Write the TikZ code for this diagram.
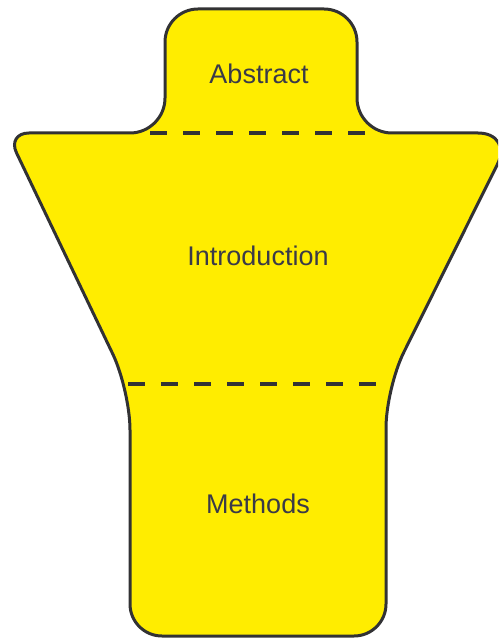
\documentclass[tikz,border=0pt]{standalone}
\usepackage{fontspec}
\setmainfont{Liberation Sans}
\usetikzlibrary{calc}
\definecolor{fillyellow}{RGB}{255,237,0}
\definecolor{edgegray}{RGB}{50,50,52}
\definecolor{labelgray}{RGB}{58,58,72}
\tikzset{
  outline/.style={draw=edgegray, line width=3pt, fill=fillyellow, line join=round},
  divider/.style={draw=edgegray, line width=3.5pt, dash pattern=on 17pt off 16pt},
  label/.style={text=labelgray, font=\fontsize{27}{32}\selectfont, inner sep=0pt},
  rc/.style n args={5}{insert path={-- ($(#2)!#4!(#1)$) .. controls ($(#2)!#5!(#1)$) and ($(#2)!#5!(#3)$) .. ($(#2)!#4!(#3)$)}}
}
\begin{document}
\begin{tikzpicture}[x=1pt,y=-1pt]
\useasboundingbox (0,0) rectangle (498,639);
\clip (0,0) rectangle (498,639);
\coordinate (M) at (261,9);
\coordinate (T1) at (165,9);
\coordinate (T2) at (357,9);
\coordinate (T3) at (357,133);
\coordinate (R) at (513,133);
\coordinate (RB) at (386,388);
\coordinate (B1) at (386,636);
\coordinate (B2) at (130,636);
\coordinate (LB) at (130,390);
\coordinate (L) at (7,133);
\coordinate (T4) at (165,133);
\path[outline] (M)
  [rc={M}{T2}{T3}{33pt}{14.8pt}]
  [rc={T2}{T3}{R}{35pt}{15.7pt}]
  [rc={T3}{R}{RB}{35pt}{15.7pt}]
  [rc={R}{RB}{B1}{40pt}{17.9pt}]
  [rc={RB}{B1}{B2}{32pt}{14.3pt}]
  [rc={B1}{B2}{LB}{32pt}{14.3pt}]
  [rc={B2}{LB}{L}{40pt}{17.9pt}]
  [rc={LB}{L}{T4}{22pt}{9.8pt}]
  [rc={L}{T4}{T1}{35pt}{15.7pt}]
  [rc={T4}{T1}{M}{33pt}{14.8pt}]
  -- cycle;
\coordinate (d1l) at (150,133);
\coordinate (d1r) at (370,133);
\coordinate (d2l) at (128,384);
\coordinate (d2r) at (376,384);
\draw[divider] (d1l) -- (d1r);
\draw[divider] (d2l) -- (d2r);
\node[label] (abstract) at (259,74) {Abstract};
\node[label] (intro) at (258,256) {Introduction};
\node[label] (methods) at (258,504) {Methods};
\end{tikzpicture}
\end{document}
